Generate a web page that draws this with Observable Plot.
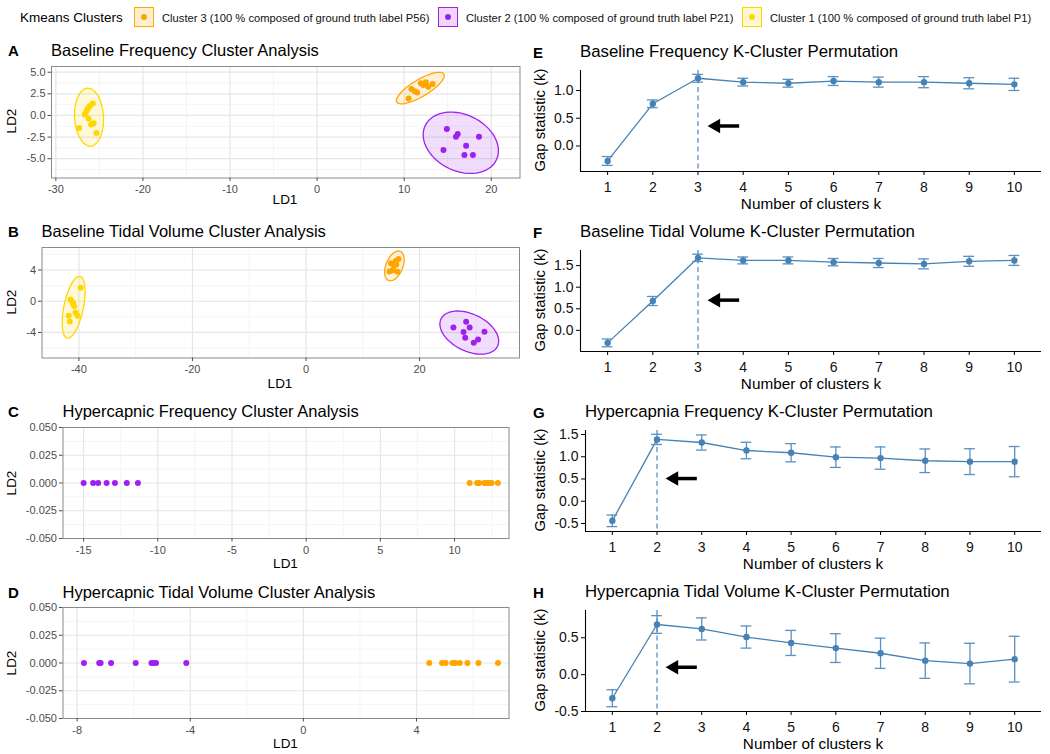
<!DOCTYPE html>
<html><head><meta charset="utf-8">
<script src="https://cdn.jsdelivr.net/npm/d3@7"></script>
<script src="https://cdn.jsdelivr.net/npm/@observablehq/plot@0.6"></script>
<style>
body{margin:0;background:#fff;font-family:"Liberation Sans",Arial,sans-serif;}
#root{position:relative;width:1050px;height:754px;overflow:hidden;background:#fff;}
.t{position:absolute;white-space:nowrap;line-height:1;}
.p{position:absolute;}
</style></head><body><div id="root"></div>
<script>
// ---------- legend ----------
const legendTitle = "Kmeans Clusters";
const clusterIds = [3, 2, 1];
const clusterLabels = [
  "Cluster 3 (100 % composed of ground truth label P56)",
  "Cluster 2 (100 % composed of ground truth label P21)",
  "Cluster 1 (100 % composed of ground truth label P1)"
];
const clusterColors = ["#FFA500", "#A020F0", "#FFD700"];

// ---------- LDA scatter panels (LD1, LD2, cluster) ----------
const aLD1 = [-27.32,-26.69,-26.34,-25.76,-26.23,-25.93,-25.65,-25.34,-26.51,-26.11,
              10.51,10.83,11.21,11.49,11.91,12.19,12.49,12.77,13.27,
              14.9,15.95,16.15,18.59,14.51,17.11,16.92,17.89];
const aLD2 = [-1.45,0.12,0.78,1.37,-0.39,-1.05,-0.90,-2.03,0.47,1.10,
              1.95,3.05,2.81,2.66,3.71,3.52,3.83,3.32,3.64,
              -1.57,-2.46,-2.15,-2.46,-3.98,-3.51,-4.57,-4.57];
const aCl  = [1,1,1,1,1,1,1,1,1,1, 3,3,3,3,3,3,3,3,3, 2,2,2,2,2,2,2,2];

const bLD1 = [-39.7,-41.48,-41.13,-40.83,-40.6,-40.24,-41.79,-41.6,-41.0,
              14.95,15.3,15.5,15.8,15.9,16.1,14.7,16.3,
              25.96,28.2,27.75,28.82,28.04,29.54,30.3,31.43];
const bLD2 = [1.73,0.22,-0.13,-0.65,-1.43,-1.86,-1.86,-2.6,-0.35,
              4.85,3.98,4.55,5.15,4.7,3.77,3.8,5.4,
              -3.38,-2.64,-3.94,-3.38,-4.68,-5.32,-4.9,-3.9];
const bCl  = [1,1,1,1,1,1,1,1,1, 3,3,3,3,3,3,3,3, 2,2,2,2,2,2,2,2];

const cLD1 = [-15,-14.36,-14.02,-13.45,-12.89,-12.09,-11.34,
              11.02,11.52,11.66,12.0,12.16,12.34,12.5,12.92];
const cLD2 = [0,0,0,0,0,0,0, 0,0,0,0,0,0,0,0];
const cCl  = [2,2,2,2,2,2,2, 3,3,3,3,3,3,3,3];

const dLD1 = [-7.76,-7.22,-7.17,-6.80,-5.93,-5.37,-5.28,-5.21,-4.14,
              4.45,4.90,5.03,5.27,5.37,5.53,5.80,6.19,6.88];
const dLD2 = [0,0,0,0,0,0,0,0,0, 0,0,0,0,0,0,0,0,0];
const dCl  = [2,2,2,2,2,2,2,2,2, 3,3,3,3,3,3,3,3,3];

// ---------- gap statistic panels ----------
const kValues = [1,2,3,4,5,6,7,8,9,10];
const eGap = [-0.27,0.76,1.22,1.15,1.13,1.17,1.15,1.15,1.13,1.11];
const eSE  = [0.08,0.07,0.07,0.07,0.07,0.08,0.09,0.10,0.10,0.11];
const fGap = [-0.29,0.68,1.68,1.62,1.62,1.58,1.56,1.54,1.60,1.62];
const fSE  = [0.09,0.105,0.085,0.08,0.08,0.085,0.105,0.115,0.115,0.115];
const gGap = [-0.44,1.39,1.32,1.14,1.09,0.99,0.97,0.91,0.89,0.89];
const gSE  = [0.13,0.115,0.17,0.185,0.205,0.23,0.25,0.265,0.29,0.34];
const hGap = [-0.32,0.68,0.62,0.51,0.43,0.36,0.29,0.19,0.15,0.21];
const hSE  = [0.115,0.12,0.15,0.15,0.17,0.195,0.205,0.24,0.275,0.31];
const optimalK = [3, 3, 2, 2];
// annotation arrows: [tail k, tip k, gap value]
const arrowE = [3.91, 3.22, 0.36];
const arrowF = [3.91, 3.22, 0.70];
const arrowG = [2.89, 2.20, 0.51];
const arrowH = [2.89, 2.20, 0.10];

// ---------- titles ----------
const panelLetters = ["A","B","C","D","E","F","G","H"];
const panelTitles = [
  "Baseline Frequency Cluster Analysis",
  "Baseline Tidal Volume Cluster Analysis",
  "Hypercapnic Frequency Cluster Analysis",
  "Hypercapnic Tidal Volume Cluster Analysis",
  "Baseline Frequency K-Cluster Permutation",
  "Baseline Tidal Volume K-Cluster Permutation",
  "Hypercapnia Frequency K-Cluster Permutation",
  "Hypercapnia Tidal Volume K-Cluster Permutation"
];

const FONT = '"Liberation Sans",Arial,sans-serif';
const root = document.getElementById("root");

function text(str, x, y, o = {}) {
  const el = document.createElement("div");
  el.className = "t";
  el.textContent = str;
  el.style.left = x + "px";
  el.style.top = y + "px";
  el.style.fontSize = (o.size || 12) + "px";
  el.style.fontWeight = o.weight || "normal";
  el.style.color = o.color || "#000";
  const anchor = o.anchor || "left";
  let tr = anchor === "center" ? "translate(-50%,-50%)" : "translate(0,-50%)";
  if (o.rotate) tr = "translate(-50%,-50%) rotate(-90deg)";
  el.style.transform = tr;
  root.appendChild(el);
  return el;
}
function place(svg, left, top) {
  svg.classList.add("p");
  svg.style.left = left + "px";
  svg.style.top = top + "px";
  root.appendChild(svg);
}

// legend
text(legendTitle, 20, 18, {size: 13.5});
const keyX = [134, 438, 742], labX = [162, 466, 770];
clusterIds.forEach((c, i) => {
  const k = document.createElement("div");
  k.style.cssText = `position:absolute;left:${keyX[i]}px;top:7px;width:18px;height:18px;border:1.6px solid ${clusterColors[i]};background:${d3.color(clusterColors[i]).copy({opacity:0.18})};`;
  const dot = document.createElement("div");
  dot.style.cssText = `position:absolute;left:50%;top:50%;width:6px;height:6px;margin:-3px 0 0 -3px;border-radius:50%;background:${clusterColors[i]};`;
  k.appendChild(dot);
  root.appendChild(k);
  text(clusterLabels[i], labX[i], 18.5, {size: 11.2, color: "#111"});
});

function ellipse(xs, ys, level = 0.95, seg = 60) {
  const n = xs.length, mx = d3.mean(xs), my = d3.mean(ys);
  let sxx = 0, syy = 0, sxy = 0;
  for (let i = 0; i < n; i++) {
    const dx = xs[i] - mx, dy = ys[i] - my;
    sxx += dx * dx; syy += dy * dy; sxy += dx * dy;
  }
  sxx /= n - 1; syy /= n - 1; sxy /= n - 1;
  const m = n - 1;
  const q = (m / 2) * (Math.pow(1 - level, -2 / m) - 1);
  const radius = Math.sqrt(2 * q);
  const r11 = Math.sqrt(sxx), r12 = sxy / r11, r22 = Math.sqrt(Math.max(syy - r12 * r12, 0));
  const pts = [];
  for (let t = 0; t <= seg; t++) {
    const a = 2 * Math.PI * t / seg, c = Math.cos(a), s = Math.sin(a);
    pts.push({x: mx + radius * c * r11, y: my + radius * (c * r12 + s * r22)});
  }
  return pts;
}

function scatter(cfg) {
  const {ld1, ld2, cl, xDomain, yDomain, xTicks, yTicks, xMinor, yMinor, L, R, T, B, yFmt, withEllipse} = cfg;
  const data = ld1.map((v, i) => ({ld1: v, ld2: ld2[i], cluster: cl[i]}));
  const mt = 6, mb = 24, width = 525;
  const marks = [
    Plot.gridX(xMinor, {stroke: "#efefef", strokeOpacity: 1, strokeWidth: 0.7}),
    Plot.gridY(yMinor, {stroke: "#efefef", strokeOpacity: 1, strokeWidth: 0.7}),
    Plot.gridX(xTicks, {stroke: "#e6e6e6", strokeOpacity: 1, strokeWidth: 1.2}),
    Plot.gridY(yTicks, {stroke: "#e6e6e6", strokeOpacity: 1, strokeWidth: 1.2})
  ];
  if (withEllipse) {
    clusterIds.forEach((c, i) => {
      const sub = data.filter(d => d.cluster === c);
      const pts = ellipse(sub.map(d => d.ld1), sub.map(d => d.ld2));
      marks.push(Plot.line(pts, {x: "x", y: "y", stroke: clusterColors[i], strokeWidth: 1.3,
        fill: clusterColors[i], fillOpacity: 0.15}));
    });
  }
  marks.push(
    Plot.dot(data, {x: "ld1", y: "ld2", fill: "cluster", r: 3}),
    Plot.frame({stroke: "#8a8a8a", strokeWidth: 1}),
    Plot.axisX(xTicks, {tickSize: 3.5, tickPadding: 4, fontSize: 11, fill: "#4d4d4d", stroke: "#4d4d4d", label: null, tickFormat: d => String(d)}),
    Plot.axisY(yTicks, {tickSize: 3.5, tickPadding: 2.5, fontSize: 11, fill: "#4d4d4d", stroke: "#4d4d4d", label: null, tickFormat: yFmt})
  );
  const svg = Plot.plot({
    width, height: mt + (B - T) + mb,
    marginLeft: L, marginRight: width - R, marginTop: mt, marginBottom: mb,
    style: {fontFamily: FONT, background: "transparent"},
    x: {domain: xDomain, label: null},
    y: {domain: yDomain, label: null},
    color: {domain: clusterIds, range: clusterColors},
    marks
  });
  place(svg, 0, T - mt);
}

function gapPanel(cfg) {
  const {gap, se, kOpt, arrow, yDomain, yTicks, L, R, T, B} = cfg;
  const data = kValues.map((k, i) => ({k, gap: gap[i], lo: gap[i] - se[i], hi: gap[i] + se[i]}));
  const mt = 8, mb = 30, width = 530, x0 = 520;
  const blue = "#4682B4", lite = "#5a90c2";
  const svg = Plot.plot({
    width, height: mt + (B - T) + mb,
    marginLeft: L - x0, marginRight: x0 + width - R, marginTop: mt, marginBottom: mb,
    style: {fontFamily: FONT, background: "transparent"},
    x: {domain: [0.4, 10.6], label: null},
    y: {domain: yDomain, label: null},
    marks: [
      Plot.ruleX([kOpt], {stroke: lite, strokeWidth: 1.3, strokeDasharray: "5,3.5"}),
      Plot.line(data, {x: "k", y: "gap", stroke: blue, strokeWidth: 1.3}),
      Plot.ruleX(data, {x: "k", y1: "lo", y2: "hi", stroke: lite, strokeWidth: 1.3}),
      Plot.ruleY(data, {y: "lo", x1: d => d.k - 0.12, x2: d => d.k + 0.12, stroke: lite, strokeWidth: 1.3}),
      Plot.ruleY(data, {y: "hi", x1: d => d.k - 0.12, x2: d => d.k + 0.12, stroke: lite, strokeWidth: 1.3}),
      Plot.dot(data, {x: "k", y: "gap", fill: blue, r: 3.2}),
      // arrow: thick shaft + filled triangular head
      Plot.link([arrow], {x1: d => d[0], x2: d => d[1] + 0.14, y1: d => d[2], y2: d => d[2], stroke: "#000", strokeWidth: 3.5}),
      Plot.dot([arrow], {x: d => d[1], y: d => d[2], dx: 8, symbol: "triangle", r: 5.4, rotate: -90, fill: "#000", stroke: "none"}),
      Plot.ruleY([yDomain[0]], {stroke: "#000", strokeWidth: 1.1}),
      Plot.ruleX([0.4], {stroke: "#000", strokeWidth: 1.1}),
      Plot.axisX(kValues, {tickSize: 4, tickPadding: 7, fontSize: 14, fill: "#111", stroke: "#000", label: null, tickFormat: d => String(d)}),
      Plot.axisY(yTicks, {tickSize: 4, tickPadding: 3, fontSize: 14, fill: "#111", stroke: "#000", label: null, tickFormat: d => d.toFixed(1)})
    ]
  });
  place(svg, x0, T - mt);
}

const f1 = d => d.toFixed(1), f3 = d => d.toFixed(3), f0 = d => String(d);

scatter({ld1: aLD1, ld2: aLD2, cl: aCl, xDomain: [-30.5, 23.3], yDomain: [-7.23, 5.66],
  xTicks: [-30,-20,-10,0,10,20], yTicks: [-5,-2.5,0,2.5,5],
  xMinor: [-25,-15,-5,5,15], yMinor: [-6.25,-3.75,-1.25,1.25,3.75],
  L: 51, R: 519.5, T: 65.5, B: 177, yFmt: f1, withEllipse: true});
scatter({ld1: bLD1, ld2: bLD2, cl: bCl, xDomain: [-46.5, 37.6], yDomain: [-7.27, 6.88],
  xTicks: [-40,-20,0,20], yTicks: [-4,0,4],
  xMinor: [-30,-10,10,30], yMinor: [-6,-2,2,6],
  L: 41.5, R: 519, T: 246.5, B: 357, yFmt: f0, withEllipse: true});
scatter({ld1: cLD1, ld2: cLD2, cl: cCl, xDomain: [-16.39, 13.67], yDomain: [-0.05, 0.05],
  xTicks: [-15,-10,-5,0,5,10], yTicks: [-0.05,-0.025,0,0.025,0.05],
  xMinor: [-12.5,-7.5,-2.5,2.5,7.5,12.5], yMinor: [-0.0375,-0.0125,0.0125,0.0375],
  L: 62.5, R: 508.5, T: 427, B: 538, yFmt: f3, withEllipse: false});
scatter({ld1: dLD1, ld2: dLD2, cl: dCl, xDomain: [-8.5, 7.27], yDomain: [-0.05, 0.05],
  xTicks: [-8,-4,0,4], yTicks: [-0.05,-0.025,0,0.025,0.05],
  xMinor: [-6,-2,2,6], yMinor: [-0.0375,-0.0125,0.0125,0.0375],
  L: 62.5, R: 508.5, T: 607, B: 718, yFmt: f3, withEllipse: false});

gapPanel({gap: eGap, se: eSE, kOpt: optimalK[0], arrow: arrowE, yDomain: [-0.46, 1.36], yTicks: [0, 0.5, 1.0], L: 580, R: 1041, T: 70, B: 171});
gapPanel({gap: fGap, se: fSE, kOpt: optimalK[1], arrow: arrowF, yDomain: [-0.49, 1.85], yTicks: [0, 0.5, 1.0, 1.5], L: 580, R: 1041, T: 250, B: 351});
gapPanel({gap: gGap, se: gSE, kOpt: optimalK[2], arrow: arrowG, yDomain: [-0.68, 1.59], yTicks: [-0.5, 0, 0.5, 1.0, 1.5], L: 585, R: 1041, T: 430, B: 531});
gapPanel({gap: hGap, se: hSE, kOpt: optimalK[3], arrow: arrowH, yDomain: [-0.5, 0.87], yTicks: [-0.5, 0, 0.5], L: 585, R: 1041, T: 610, B: 711});

// titles & axis titles
const leftTitle = [[51, 50], [41.5, 230.5], [62.5, 410.5], [62.5, 592.3]];
const rightTitle = [[580, 52], [580, 232], [585, 412], [585, 592]];
leftTitle.forEach(([x, y], i) => {
  text(panelLetters[i], 8, y, {size: 15, weight: "bold"});
  text(panelTitles[i], x, y, {size: 16.5});
});
rightTitle.forEach(([x, y], i) => {
  text(panelLetters[i + 4], 533, y, {size: 15, weight: "bold"});
  text(panelTitles[i + 4], x, y, {size: 16.8});
});
const ld2Y = [121, 302, 482.5, 662.5], ld1Pos = [[285, 199.5], [280, 383.5], [285.5, 563.5], [285.5, 744]];
ld2Y.forEach(y => text("LD2", 12, y, {size: 13.5, rotate: true}));
ld1Pos.forEach(([x, y]) => text("LD1", x, y, {size: 13.5, anchor: "center"}));
const gapY = [120, 300, 480, 660], nkPos = [[811, 204], [811, 384], [813, 564], [813, 744]];
gapY.forEach(y => text("Gap statistic (k)", 540, y, {size: 14.8, rotate: true}));
nkPos.forEach(([x, y]) => text("Number of clusters k", x, y, {size: 15.3, anchor: "center"}));
</script></body></html>
